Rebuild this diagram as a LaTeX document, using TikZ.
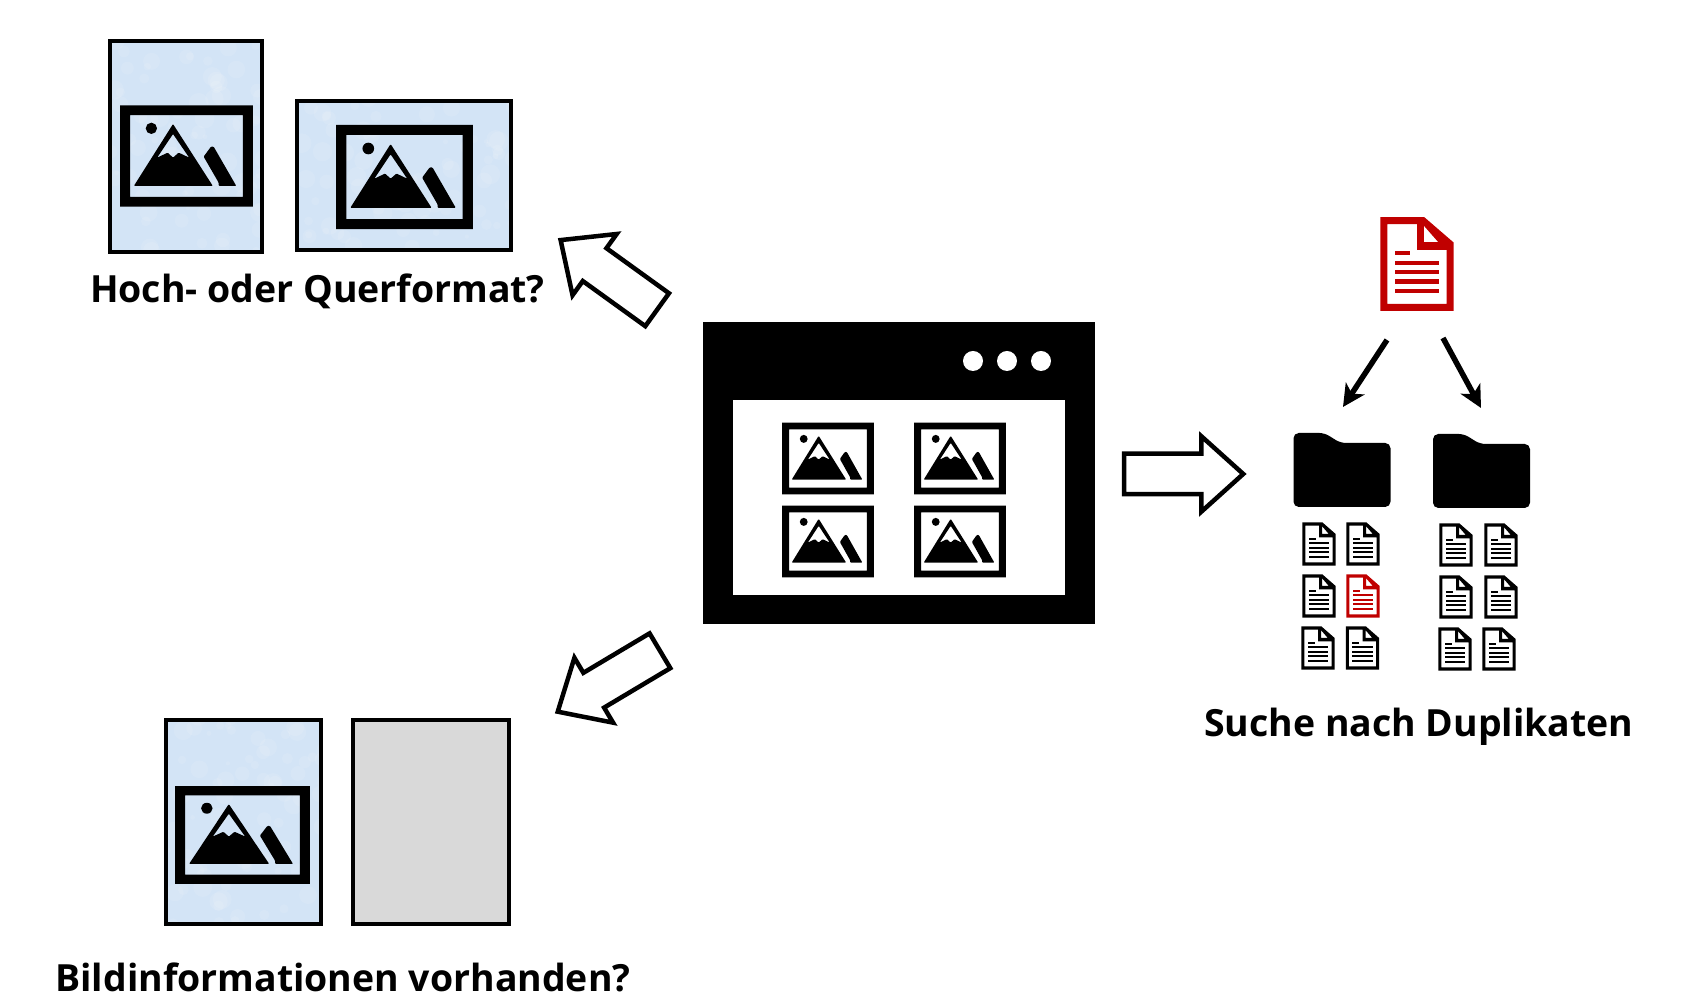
\documentclass[tikz,border=0pt]{standalone}
\usepackage{fontspec}
\setmainfont{Open Sans}
\usetikzlibrary{shapes.arrows}
\usetikzlibrary{arrows.meta}
\definecolor{kartenblau}{HTML}{D3E4F6}
\definecolor{leergrau}{HTML}{D9D9D9}
\definecolor{dunkelrot}{HTML}{C00000}
\newcommand{\kartenflecken}[1]{
    \begin{scope}
        \clip (#1.south west) rectangle (#1.north east);
        \foreach \i in {1,...,130}
            \fill[white, opacity=0.11] (#1.south west) ++ ({rnd*2.2},{rnd*2.2}) circle ({0.02+rnd*0.08});
    \end{scope}
    \draw[line width=0.04cm] (#1.south west) rectangle (#1.north east);
}
\tikzset{
    karte/.style={draw=black, line width=0.04cm, fill=#1, inner sep=0pt, outer sep=0pt},
    karte/.default=kartenblau,
    blockpfeil/.style={draw=black, line width=0.045cm, fill=white, single arrow, inner sep=0.18cm,
        minimum width=0.71cm, minimum height=1.19cm, single arrow tip angle=84, single arrow head extend=0.175cm},
    duennpfeil/.style={line width=0.055cm, -{Stealth[length=0.22cm,width=0.22cm,inset=0.06cm]}},
    titel/.style={font=\bfseries\fontsize{10.65}{12}\selectfont, anchor=base},
    bildicon/.pic={
        \fill[black, even odd rule] (-1.995,-1.52) rectangle (1.995,1.52) (-1.695,-1.23) rectangle (1.695,1.23);
        \fill[black, even odd rule, rounded corners=0.25pt] (-0.405,0.96) -- (0.79,-0.90) -- (-1.58,-0.90) -- cycle
            (-0.405,0.66) -- (-0.88,-0.05) -- (-0.565,0.10) -- (-0.405,-0.05) -- (-0.235,0.10) -- (0.08,-0.05) -- cycle;
        \fill[black, rounded corners=0.25pt] (0.515,-0.02) -- (0.735,0.28) -- (0.815,0.28) -- (1.495,-0.90) -- (0.965,-0.90) -- (0.965,-0.80) -- cycle;
        \fill[black] (-1.055,0.83) circle (0.17);
    },
    docicon/.pic={
        \fill[pic actions, even odd rule] (-1.10,1.405) -- (0.22,1.405) -- (1.10,0.645) -- (1.10,-1.405) -- (-1.10,-1.405) -- cycle
            (-0.89,1.195) -- (0,1.195) -- (0,0.425) -- (0.89,0.425) -- (0.89,-1.195) -- (-0.89,-1.195) -- cycle
            (0.21,1.145) -- (0.64,0.655) -- (0.21,0.655) -- cycle;
        \fill[pic actions] (-0.67,0.26) rectangle (-0.21,0.39);
        \foreach \zeile in {0.035,-0.245,-0.525,-0.815}
            \fill[pic actions] (-0.67,\zeile-0.065) rectangle (0.67,\zeile+0.065);
    },
    ordnericon/.pic={
        \fill[black, rounded corners=1.5pt] (-0.485,-0.37) -- (0.485,-0.37) -- (0.485,0.27) -- (-0.015,0.27) -- (-0.175,0.37) -- (-0.485,0.37) -- cycle;
    }
}
\begin{document}
\begin{tikzpicture}
    \useasboundingbox (0,0) rectangle (16.93,9.97);
    \pgfmathsetseed{41}

    % Hoch- oder Querformat
    \node[karte, minimum width=1.526cm, minimum height=2.116cm] (hochkarte) at (1.86,8.505) {};
    \node[karte, minimum width=2.146cm, minimum height=1.496cm] (querkarte) at (4.04,8.215) {};
    \kartenflecken{hochkarte}
    \kartenflecken{querkarte}
    \pic[scale=0.333] (hochbild) at (1.865,8.41) {bildicon};
    \pic[scale=0.343] (querbild) at (4.045,8.20) {bildicon};
    \node[titel] (formattitel) at (3.175,6.94) {Hoch- oder Querformat?};

    % Bildinformationen
    \node[karte, minimum width=1.556cm, minimum height=2.046cm] (infokarte) at (2.435,1.75) {};
    \node[karte=leergrau, minimum width=1.556cm, minimum height=2.046cm] (leerkarte) at (4.31,1.75) {};
    \kartenflecken{infokarte}
    \pic[xscale=0.338, yscale=0.322] (infobild) at (2.425,1.62) {bildicon};
    \node[titel] (infotitel) at (3.43,0.05) {Bildinformationen vorhanden?};

    % Fenster
    \node[fill=black, minimum width=3.92cm, minimum height=3.02cm, inner sep=0pt] (fenster) at (8.99,5.24) {};
    \node[fill=white, minimum width=3.32cm, minimum height=1.95cm, inner sep=0pt] (galerie) at (8.99,4.995) {};
    \foreach \x in {9.73,10.07,10.41}
        \fill[white] (\x,6.36) circle (0.1);
    \foreach \x/\y in {8.28/5.385, 9.60/5.385, 8.28/4.555, 9.60/4.555}
        \pic[xscale=0.23, yscale=0.236] at (\x,\y) {bildicon};

    % Blockpfeile
    \node[blockpfeil, rotate=144.2] (pfeilformat) at (6.18,7.155) {};
    \node[blockpfeil, rotate=210.8] (pfeilinfo) at (6.185,3.215) {};
    \node[blockpfeil] (pfeilduplikat) at (11.725,5.23) {};

    % Duplikate
    \pic[scale=0.333, fill=dunkelrot, color=dunkelrot] (roterdoc) at (14.17,7.33) {docicon};
    \pic (ordnerA) at (13.42,5.27) {ordnericon};
    \pic (ordnerB) at (14.815,5.26) {ordnericon};
    \coordinate (docL) at (13.87,6.57);
    \coordinate (docR) at (14.43,6.59);
    \coordinate (ordnerAoben) at (13.43,5.90);
    \coordinate (ordnerBoben) at (14.81,5.89);
    \draw[duennpfeil] (docL) -- (ordnerAoben);
    \draw[duennpfeil] (docR) -- (ordnerBoben);

    \foreach \x/\y in {13.19/4.53, 13.63/4.53, 13.19/4.01, 13.18/3.49, 13.625/3.49, 14.56/4.52, 15.01/4.52, 14.56/4.00, 15.01/4.00, 14.55/3.48, 14.99/3.48}
        \pic[xscale=0.152, yscale=0.154, fill=black] at (\x,\y) {docicon};
    \pic[xscale=0.152, yscale=0.154, fill=dunkelrot] at (13.63,4.01) {docicon};
    \node[titel] (duplikattitel) at (14.19,2.60) {Suche nach Duplikaten};
\end{tikzpicture}
\end{document}
